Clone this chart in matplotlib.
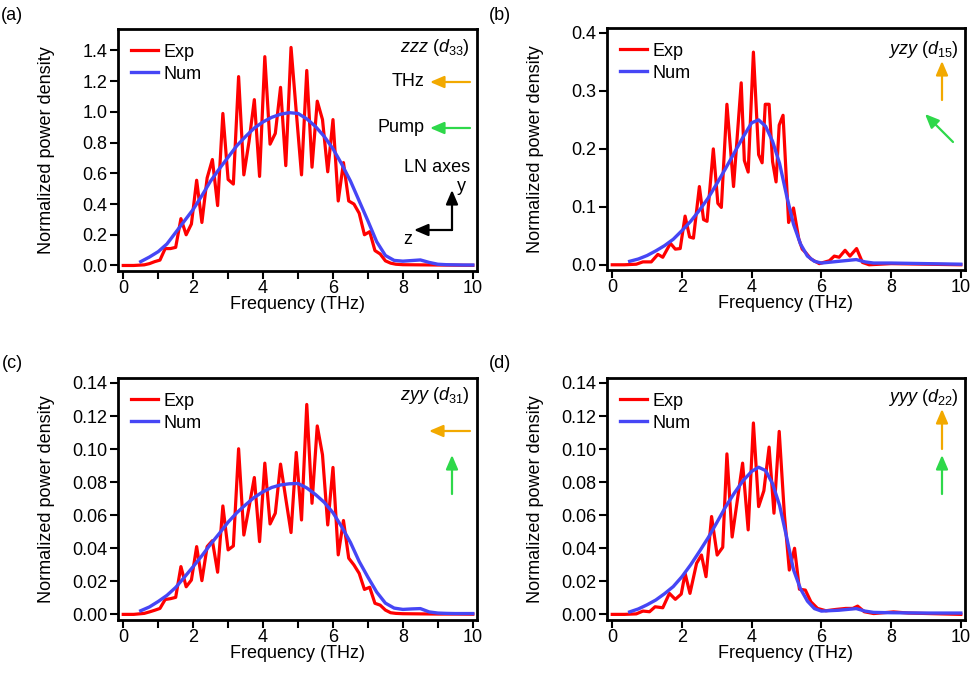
import matplotlib
matplotlib.use("Agg")
import matplotlib.pyplot as plt
from matplotlib.ticker import MultipleLocator

plt.rcParams["font.family"] = ["Liberation Sans", "DejaVu Sans"]
plt.rcParams["font.size"] = 13
plt.rcParams["mathtext.fontset"] = "custom"
plt.rcParams["mathtext.it"] = "Liberation Sans:italic"
plt.rcParams["mathtext.rm"] = "Liberation Sans"

# frequency grid of the measured spectra in (a) and (c)
freq_ac = [0.0, 0.15, 0.3, 0.45, 0.6, 0.75, 0.9, 1.05, 1.2, 1.35, 1.5, 1.65, 1.8, 1.95,
           2.1, 2.25, 2.4, 2.55, 2.7, 2.85, 3.0, 3.15, 3.3, 3.45, 3.6, 3.75, 3.9, 4.05,
           4.2, 4.35, 4.5, 4.65, 4.8, 4.95, 5.1, 5.25, 5.4, 5.55, 5.7, 5.85, 6.0, 6.15,
           6.3, 6.45, 6.6, 6.75, 6.9, 7.05, 7.2, 7.35, 7.5, 7.65, 7.8, 8.0, 8.5, 9.0,
           9.5, 10.0]
exp_a = [0.0, 0.0, 0.0, 0.002, 0.004, 0.012, 0.025, 0.035, 0.11, 0.11, 0.118, 0.305,
         0.2, 0.27, 0.555, 0.28, 0.57, 0.69, 0.39, 0.99, 0.56, 0.53, 1.23, 0.59, 0.81,
         1.08, 0.58, 1.36, 0.79, 0.86, 1.16, 0.65, 1.42, 1.0, 0.59, 1.27, 0.64, 1.07,
         0.95, 0.61, 0.95, 0.42, 0.67, 0.42, 0.40, 0.34, 0.20, 0.22, 0.097, 0.075, 0.03,
         0.015, 0.008, 0.005, 0.004, 0.003, 0.002, 0.001]
exp_c = [0.0, 0.0, 0.0, 0.0003, 0.0006, 0.0015, 0.0025, 0.0036, 0.009, 0.0095, 0.0103,
         0.0289, 0.0167, 0.0208, 0.041, 0.0204, 0.041, 0.0446, 0.0255, 0.0656, 0.039,
         0.0414, 0.1002, 0.048, 0.065, 0.0828, 0.044, 0.0915, 0.0547, 0.0612, 0.0909,
         0.07, 0.0495, 0.098, 0.0571, 0.127, 0.0672, 0.114, 0.0965, 0.0541, 0.0889,
         0.036, 0.0568, 0.034, 0.0299, 0.0248, 0.0151, 0.0164, 0.0067, 0.0056, 0.0026,
         0.001, 0.0006, 0.0004, 0.0003, 0.0002, 0.0002, 0.0001]

freq_exp_b = [0.0, 0.35, 0.69, 0.88, 1.12, 1.31, 1.45, 1.67, 1.81, 1.95, 2.09, 2.22, 2.33,
              2.5, 2.62, 2.72, 2.9, 3.03, 3.13, 3.29, 3.48, 3.7, 3.79, 3.9, 4.05, 4.2, 4.3,
              4.39, 4.5, 4.6, 4.7, 4.79, 4.9, 5.06, 5.2, 5.35, 5.45, 5.55, 5.7, 5.94, 6.23,
              6.37, 6.51, 6.68, 6.82, 7.01, 7.18, 7.37, 8.0, 9.0, 10.0]
exp_b = [0.0, 0.0, 0.001, 0.005, 0.005, 0.018, 0.013, 0.037, 0.027, 0.028, 0.084, 0.048,
         0.046, 0.135, 0.078, 0.075, 0.2, 0.106, 0.099, 0.277, 0.135, 0.314, 0.18, 0.16,
         0.367, 0.19, 0.176, 0.277, 0.277, 0.178, 0.143, 0.241, 0.258, 0.073, 0.098, 0.045,
         0.027, 0.021, 0.01, 0.002, 0.007, 0.015, 0.013, 0.025, 0.015, 0.028, 0.004, 0.0,
         0.002, 0.001, 0.0]

freq_exp_d = [0.0, 0.35, 0.69, 0.88, 1.07, 1.23, 1.45, 1.64, 1.81, 1.98, 2.09, 2.23, 2.42,
              2.56, 2.69, 2.85, 3.01, 3.17, 3.29, 3.44, 3.74, 3.9, 4.05, 4.2, 4.35, 4.5,
              4.64, 4.79, 4.94, 5.08, 5.23, 5.37, 5.54, 5.7, 5.89, 6.13, 6.42, 6.7, 6.9,
              7.04, 7.23, 7.5, 8.07, 8.5, 10.0]
exp_d = [0.0, 0.0, 0.0003, 0.002, 0.0016, 0.0046, 0.004, 0.0127, 0.0091, 0.0123, 0.0248,
         0.0127, 0.0309, 0.0359, 0.0228, 0.0592, 0.0359, 0.0406, 0.0971, 0.0468, 0.0915,
         0.0511, 0.1158, 0.0652, 0.0748, 0.1012, 0.0612, 0.1107, 0.06, 0.0268, 0.04,
         0.0152, 0.0147, 0.0076, 0.0036, 0.0022, 0.003, 0.0036, 0.0036, 0.005, 0.0016,
         0.0005, 0.0015, 0.0008, 0.0]

# numerical curves
freq_num_ac = [0.5, 0.75, 1.0, 1.25, 1.5, 1.75, 2.0, 2.25, 2.5, 2.75, 3.0, 3.25, 3.5, 3.75,
               4.0, 4.25, 4.5, 4.75, 5.0, 5.25, 5.5, 5.75, 6.0, 6.25, 6.5, 6.75, 7.0, 7.25,
               7.5, 7.75, 8.0, 8.25, 8.5, 8.75, 9.0, 9.25, 9.5, 9.75, 10.0]
num_a = [0.025, 0.055, 0.09, 0.14, 0.215, 0.29, 0.365, 0.455, 0.55, 0.63, 0.705, 0.78,
         0.84, 0.895, 0.935, 0.965, 0.985, 0.995, 0.99, 0.955, 0.905, 0.84, 0.76, 0.66,
         0.55, 0.42, 0.29, 0.155, 0.065, 0.033, 0.028, 0.032, 0.036, 0.02, 0.008, 0.005,
         0.004, 0.003, 0.003]
num_c = [0.0022, 0.0045, 0.0078, 0.0115, 0.0163, 0.0225, 0.0289, 0.0355, 0.0425, 0.049,
         0.0558, 0.0615, 0.0663, 0.0708, 0.0742, 0.0768, 0.0783, 0.079, 0.0792, 0.0765,
         0.0725, 0.0678, 0.0615, 0.053, 0.0435, 0.032, 0.0225, 0.0135, 0.0068, 0.0038,
         0.003, 0.0033, 0.0035, 0.0015, 0.0008, 0.0006, 0.0005, 0.0005, 0.0005]

freq_num_bd = [0.5, 0.75, 1.0, 1.25, 1.5, 1.75, 2.0, 2.25, 2.5, 2.75, 3.0, 3.25, 3.5, 3.75,
               4.0, 4.2, 4.4, 4.6, 4.8, 5.0, 5.2, 5.4, 5.6, 5.8, 6.0, 6.5, 7.0, 7.25, 7.5,
               8.0, 9.0, 10.0]
num_b = [0.006, 0.01, 0.016, 0.024, 0.033, 0.044, 0.059, 0.075, 0.094, 0.115, 0.14, 0.166,
         0.193, 0.22, 0.245, 0.25, 0.239, 0.213, 0.175, 0.12, 0.07, 0.036, 0.015, 0.006,
         0.003, 0.006, 0.009, 0.005, 0.003, 0.003, 0.002, 0.001]
num_d = [0.0015, 0.0033, 0.0058, 0.0087, 0.0125, 0.0168, 0.0228, 0.03, 0.038, 0.0463,
         0.0555, 0.065, 0.0733, 0.0808, 0.0865, 0.089, 0.087, 0.079, 0.066, 0.047, 0.027,
         0.0155, 0.008, 0.0035, 0.002, 0.0025, 0.0035, 0.002, 0.0012, 0.001, 0.0008, 0.0008]

RED = "#ff0000"
BLUE = "#4646f5"
ORANGE = "#f2a900"
GREEN = "#2ed84a"

W, H = 971, 686
fig = plt.figure(figsize=(W / 100, H / 100), dpi=100)


def fxy(px, py):
    return (px / W, 1 - py / H)


def make_axes(l, t, r, b):
    return fig.add_axes([l / W, 1 - b / H, (r - l) / W, (b - t) / H])


def style(ax, ylim, ystep, yfmt, minor_x, label_x):
    ax.set_xlim(-0.15, 10.12)
    ax.set_ylim(*ylim)
    ax.xaxis.set_major_locator(MultipleLocator(2))
    if minor_x:
        ax.xaxis.set_minor_locator(MultipleLocator(1))
    ax.yaxis.set_major_locator(MultipleLocator(ystep))
    ax.yaxis.set_major_formatter(plt.FuncFormatter(lambda v, p: yfmt.format(v)))
    for s in ax.spines.values():
        s.set_linewidth(2.0)
    ax.tick_params(which="both", direction="out", length=5.5, width=1.5, pad=2)
    ax.tick_params(axis="x", pad=1)
    ax.set_xlabel("Frequency (THz)", labelpad=-0.5)
    ax.set_ylabel("Normalized power density")
    ax.yaxis.set_label_coords(label_x, 0.5)
    leg = ax.legend(loc="upper left", bbox_to_anchor=(0.035, 0.94), frameon=False,
                    borderpad=0, borderaxespad=0, handlelength=1.5,
                    handletextpad=0.35, labelspacing=0.28)
    return leg


def arrow(tail, head, color):
    fig.add_artist(matplotlib.patches.FancyArrowPatch(
        fxy(*tail), fxy(*head), transform=fig.transFigure,
        arrowstyle="-|>,head_length=0.7,head_width=0.3", mutation_scale=12,
        color=color, lw=1.6, shrinkA=0, shrinkB=0))


# (a)
ax = make_axes(118, 29, 477, 271)
ax.plot(freq_ac, exp_a, color=RED, lw=2.3, label="Exp")
ax.plot(freq_num_ac, num_a, color=BLUE, lw=2.4, label="Num")
style(ax, (-0.036, 1.54), 0.2, "{:.1f}", True, -0.175)

# (b)
ax = make_axes(607, 28, 965, 270)
ax.plot(freq_exp_b, exp_b, color=RED, lw=2.3, label="Exp")
ax.plot(freq_num_bd, num_b, color=BLUE, lw=2.4, label="Num")
style(ax, (-0.009, 0.4086), 0.1, "{:.1f}", False, -0.175)

# (c)
ax = make_axes(118, 378, 477, 620)
ax.plot(freq_ac, exp_c, color=RED, lw=2.3, label="Exp")
ax.plot(freq_num_ac, num_c, color=BLUE, lw=2.4, label="Num")
style(ax, (-0.0034, 0.143), 0.02, "{:.2f}", True, -0.175)

# (d)
ax = make_axes(607, 378, 965, 620)
ax.plot(freq_exp_d, exp_d, color=RED, lw=2.3, label="Exp")
ax.plot(freq_num_bd, num_d, color=BLUE, lw=2.4, label="Num")
style(ax, (-0.0034, 0.143), 0.02, "{:.2f}", False, -0.175)

# panel letters
for lab, px, py in [("(a)", 12, 15), ("(b)", 500, 15), ("(c)", 12, 364), ("(d)", 500, 364)]:
    fig.text(*fxy(px, py), lab, ha="center", va="center")

# polarization annotations
fig.text(*fxy(470, 48), r"$zzz$ ($d_{\mathit{33}}$)", ha="right", va="center")
fig.text(*fxy(424, 82), "THz", ha="right", va="center")
arrow((470, 82), (430, 82), ORANGE)
fig.text(*fxy(424, 128), "Pump", ha="right", va="center")
arrow((470, 128), (430, 128), GREEN)
fig.text(*fxy(470, 167), "LN axes", ha="right", va="center")
arrow((452, 230), (452, 190), "black")
arrow((452, 230), (414, 230), "black")
fig.text(*fxy(461, 186), "y", ha="center", va="center")
fig.text(*fxy(408, 240), "z", ha="center", va="center")

fig.text(*fxy(958, 49), r"$yzy$ ($d_{\mathit{15}}$)", ha="right", va="center")
arrow((942, 100), (942, 61), ORANGE)
arrow((953, 142), (925, 114), GREEN)

fig.text(*fxy(470, 395), r"$zyy$ ($d_{\mathit{31}}$)", ha="right", va="center")
arrow((470, 431), (429, 431), ORANGE)
arrow((452, 494), (452, 455), GREEN)

fig.text(*fxy(958, 397), r"$yyy$ ($d_{\mathit{22}}$)", ha="right", va="center")
arrow((942, 449), (942, 409), ORANGE)
arrow((942, 494), (942, 455), GREEN)

fig.savefig("out.png", dpi=100)
